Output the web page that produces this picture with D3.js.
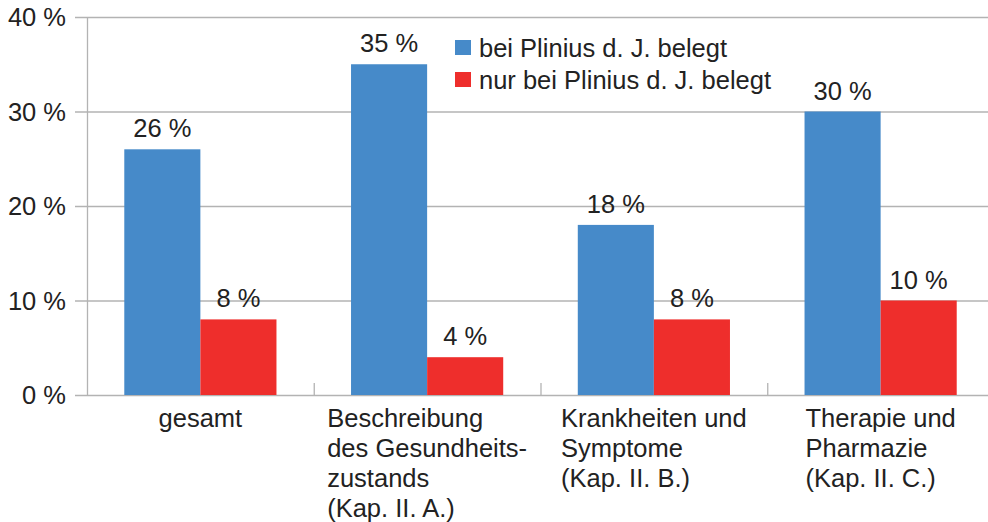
<!DOCTYPE html>
<html>
<head>
<meta charset="utf-8">
<script src="https://cdn.jsdelivr.net/npm/d3@7"></script>
<style>
  body { margin: 0; background: #fff; }
  text { font-family: "Liberation Sans", Arial, sans-serif; fill: #222; }
</style>
</head>
<body>
<script>
const categories = [
    ['gesamt'],
    ['Beschreibung', 'des Gesundheits-', 'zustands', '(Kap. II. A.)'],
    ['Krankheiten und', 'Symptome', '(Kap. II. B.)'],
    ['Therapie und', 'Pharmazie', '(Kap. II. C.)']
]
const seriesNames = ['bei Plinius d. J. belegt', 'nur bei Plinius d. J. belegt']
const beiPlinius = [26, 35, 18, 30]
const nurBeiPlinius = [8, 4, 8, 10]
const yTicks = [0, 10, 20, 30, 40]
const colors = ['#468ac9', '#ee2e2c']

const w = 988
const h = 522
const plotLeft = 87
const plotRight = 994
const plotTop = 17
const plotBottom = 395
const fontSize = 25.5

const svg = d3.select('body').append('svg')
    .attr('width', w)
    .attr('height', h)

const x = d3.scaleBand()
    .domain(d3.range(categories.length))
    .range([plotLeft, plotRight])
    .paddingInner(0)
    .paddingOuter(0)

const x1 = d3.scaleBand()
    .domain([0, 1])
    .range([0, x.bandwidth()])
    .paddingOuter(0.49)
    .paddingInner(0)

const y = d3.scaleLinear()
    .domain([0, 40])
    .range([plotBottom, plotTop])

// gridlines
svg.append('g')
    .selectAll('line')
    .data(yTicks)
    .enter()
    .append('line')
    .attr('x1', plotLeft - 12)
    .attr('x2', w)
    .attr('y1', d => y(d) + 0.5)
    .attr('y2', d => y(d) + 0.5)
    .attr('stroke', '#b3b3b3')
    .attr('stroke-width', 1.3)

svg.append('line')
    .attr('x1', plotLeft + 0.5)
    .attr('x2', plotLeft + 0.5)
    .attr('y1', plotTop)
    .attr('y2', plotBottom)
    .attr('stroke', '#b3b3b3')
    .attr('stroke-width', 1.3)

// category ticks (pointing up)
svg.append('g')
    .selectAll('line')
    .data(d3.range(1, categories.length))
    .enter()
    .append('line')
    .attr('x1', d => x(d) + 0.5)
    .attr('x2', d => x(d) + 0.5)
    .attr('y1', plotBottom - 12)
    .attr('y2', plotBottom)
    .attr('stroke', '#b3b3b3')
    .attr('stroke-width', 1.3)

// y labels
svg.append('g')
    .selectAll('text')
    .data(yTicks)
    .enter()
    .append('text')
    .attr('x', 66)
    .attr('y', d => y(d))
    .attr('dy', '0.36em')
    .attr('text-anchor', 'end')
    .attr('font-size', fontSize)
    .text(d => d + ' %')

const series = [beiPlinius, nurBeiPlinius]

series.forEach((vals, s) => {
    const g = svg.append('g')
    g.selectAll('rect')
        .data(vals)
        .enter()
        .append('rect')
        .attr('x', (d, i) => x(i) + x1(s))
        .attr('y', d => y(d))
        .attr('width', x1.bandwidth())
        .attr('height', d => y(0) - y(d))
        .attr('fill', colors[s])
    g.selectAll('text')
        .data(vals)
        .enter()
        .append('text')
        .attr('x', (d, i) => x(i) + x1(s) + x1.bandwidth() / 2)
        .attr('y', d => y(d) - 12)
        .attr('text-anchor', 'middle')
        .attr('font-size', fontSize)
        .text(d => d + ' %')
})

// category labels: lines left-aligned, block centred under group
categories.forEach((lines, i) => {
    const t = svg.append('text')
        .attr('font-size', fontSize)
        .attr('y', 427)
    lines.forEach((line, j) => {
        t.append('tspan')
            .attr('x', 0)
            .attr('dy', j === 0 ? 0 : 30)
            .text(line)
    })
    const bw = t.node().getBBox().width
    t.attr('transform', `translate(${x(i) + x.bandwidth() / 2 - bw / 2}, 0)`)
})

// legend
const legend = svg.append('g')
    .attr('transform', 'translate(455, 40)')

seriesNames.forEach((name, i) => {
    legend.append('rect')
        .attr('x', 0)
        .attr('y', i * 32)
        .attr('width', 16)
        .attr('height', 15)
        .attr('fill', colors[i])
    legend.append('text')
        .attr('x', 24)
        .attr('y', i * 32 + 17)
        .attr('font-size', fontSize)
        .text(name)
})
</script>
</body>
</html>
